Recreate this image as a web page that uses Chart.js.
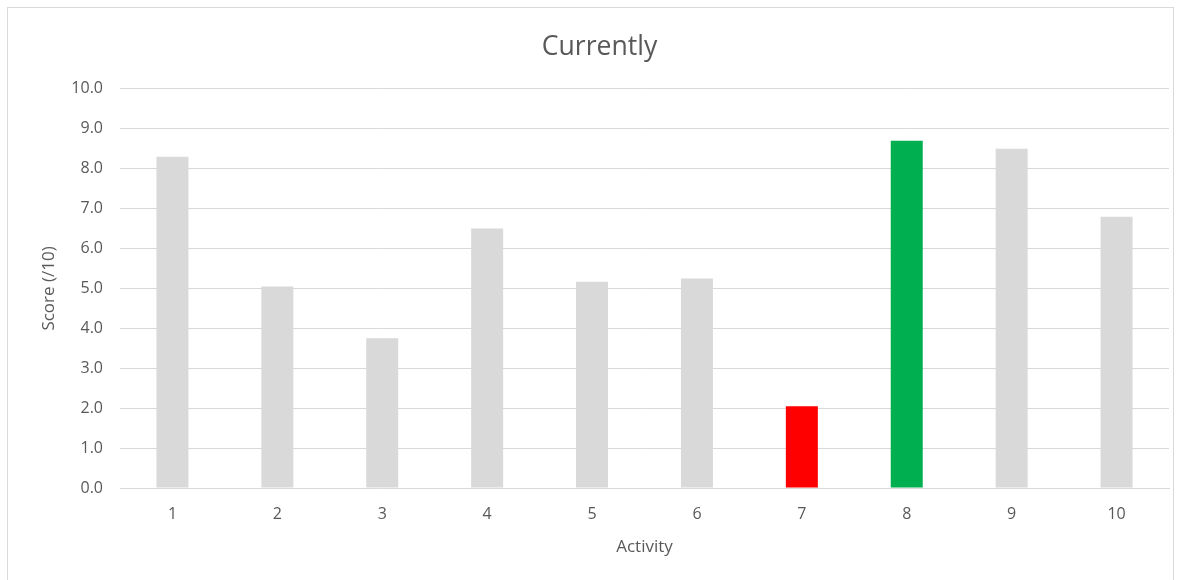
<!DOCTYPE html>
<html>
<head>
<meta charset="utf-8">
<script src="https://cdn.jsdelivr.net/npm/chart.js@4"></script>
<style>
  html, body { margin: 0; padding: 0; background: #fff; }
  #wrap { position: relative; width: 1182px; height: 580px; }
  #frame { position: absolute; left: 7px; top: 7px; width: 1167px; height: 575px; border: 1px solid #d9d9d9; box-sizing: border-box; pointer-events: none; }
</style>
</head>
<body>
<div id="wrap">
  <canvas id="chart" width="1182" height="580"></canvas>
  <div id="frame"></div>
</div>
<script>
// Scores per activity
const activities = ['1', '2', '3', '4', '5', '6', '7', '8', '9', '10'];
const scores = [8.3, 5.05, 3.75, 6.5, 5.17, 5.25, 2.05, 8.7, 8.5, 6.8];
const barColors = ['#d9d9d9', '#d9d9d9', '#d9d9d9', '#d9d9d9', '#d9d9d9', '#d9d9d9', '#ff0000', '#00b050', '#d9d9d9', '#d9d9d9'];

const textColor = '#595959';
const font = 'Open Sans';

new Chart(document.getElementById('chart'), {
  type: 'bar',
  data: {
    labels: activities,
    datasets: [{ data: scores, backgroundColor: barColors, categoryPercentage: 1, barPercentage: 0.305 }]
  },
  options: {
    responsive: false,
    animation: false,
    layout: { padding: { top: 0, right: 13, bottom: 0, left: 30 } },
    plugins: {
      legend: { display: false },
      tooltip: { enabled: false },
      title: {
        display: true, text: 'Currently', color: textColor,
        font: { family: font, size: 26.6, weight: 'normal' },
        padding: { top: 31, bottom: 26 }
      }
    },
    scales: {
      x: {
        grid: { display: false },
        border: { color: '#d9d9d9' },
        ticks: { color: textColor, font: { family: font, size: 16 }, padding: 9 },
        title: { display: true, text: 'Activity', color: textColor, font: { family: font, size: 17 }, padding: { top: 0, bottom: 23 } },
        afterFit: s => { s.height = 92; }
      },
      y: {
        min: 0, max: 10,
        ticks: { stepSize: 1, color: textColor, font: { family: font, size: 16 }, padding: 17, callback: v => v.toFixed(1) },
        grid: { color: '#d9d9d9', drawTicks: false },
        border: { display: false },
        title: { display: true, text: 'Score (/10)', color: textColor, font: { family: font, size: 17 }, padding: { top: 9, bottom: 0 } },
        afterFit: s => { s.width = 90; }
      }
    }
  }
});
</script>
</body>
</html>
